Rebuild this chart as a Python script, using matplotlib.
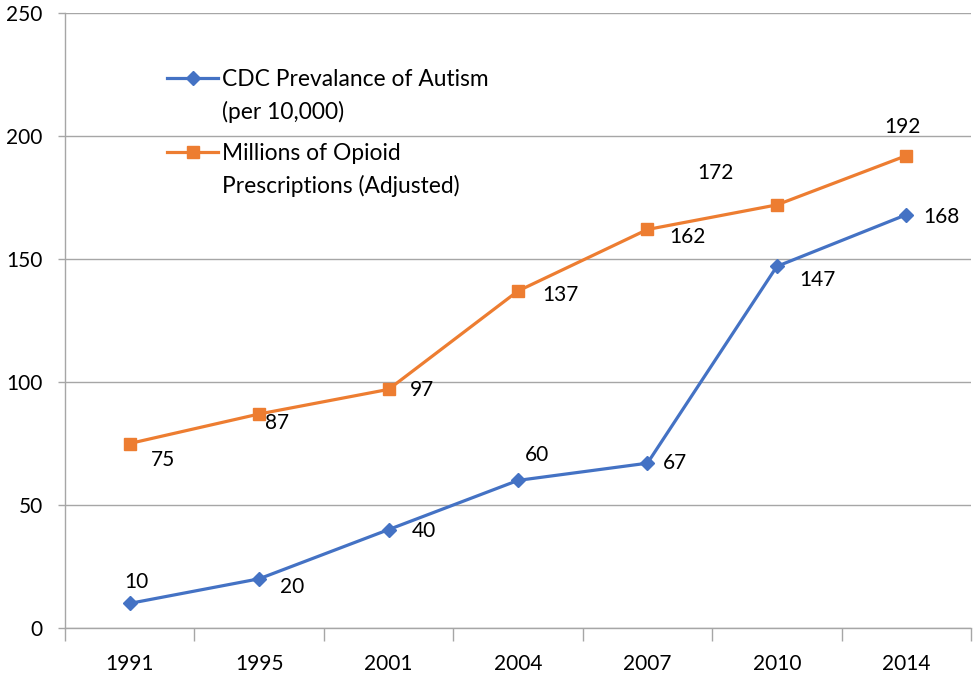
import numpy as np
import matplotlib
matplotlib.use("Agg")
import matplotlib.pyplot as plt

plt.rcParams['font.family'] = ['Lato', 'DejaVu Sans']

years = ['1991', '1995', '2001', '2004', '2007', '2010', '2014']
autism = [10, 20, 40, 60, 67, 147, 168]
opioid = [75, 87, 97, 137, 162, 172, 192]

autism_name = 'CDC Prevalance of Autism\n(per 10,000)'
opioid_name = 'Millions of Opioid\nPrescriptions (Adjusted)'

# label offsets in pixels (dx, dy), dy positive = down
autism_off = [(7, -21), (33, 8), (35, 1), (19, -25), (28, 0), (41, 14), (35, 2)]
opioid_off = [(33, 17), (18, 9), (33, 1), (42, 4), (40, 8), (-61, -32), (-4, -29)]

blue = '#4472C4'
orange = '#ED7D31'
W, H = 976, 673

fig = plt.figure(figsize=(9.76, 6.73), dpi=100)
ax = fig.add_axes([65 / W, 1 - 628 / H, 906 / W, 615 / H])

x = np.arange(len(years))
ax.plot(x, autism, color=blue, lw=2.3, marker='D', ms=7.5, zorder=3)
ax.plot(x, opioid, color=orange, lw=2.3, marker='s', ms=9, zorder=3)

for xi, v, (dx, dy) in zip(x, autism, autism_off):
    ax.annotate(str(v), (xi, v), xytext=(dx * 0.72, -dy * 0.72), textcoords='offset points',
                ha='center', va='center', fontsize=15, color='black')
for xi, v, (dx, dy) in zip(x, opioid, opioid_off):
    ax.annotate(str(v), (xi, v), xytext=(dx * 0.72, -dy * 0.72), textcoords='offset points',
                ha='center', va='center', fontsize=15, color='black')

ax.set_xlim(-0.5, len(years) - 0.5)
ax.set_ylim(0, 250)
ax.set_yticks([0, 50, 100, 150, 200, 250])
ax.set_xticks(x)
ax.set_xticklabels(years)
ax.set_xticks(np.arange(-0.5, len(years)), minor=True)
ax.tick_params(axis='x', which='major', length=0, pad=19, labelsize=15)
ax.tick_params(axis='x', which='minor', length=9, color='#a6a6a6', width=1)
ax.tick_params(axis='y', length=5, color='#a6a6a6', width=1, pad=11, labelsize=15)

ax.grid(axis='y', color='#a6a6a6', lw=1)
ax.set_axisbelow(True)
for s in ['top', 'right']:
    ax.spines[s].set_visible(False)
ax.spines['left'].set_color('#a6a6a6')
ax.spines['bottom'].set_color('#a6a6a6')
ax.spines['left'].set_linewidth(1)
ax.spines['bottom'].set_linewidth(1)

# hand-made legend, handle lined up with the first text line like Excel does
for name, col, mk, ms, ypx in [(autism_name, blue, 'D', 7.5, 78), (opioid_name, orange, 's', 9, 152)]:
    yf = 1 - ypx / H
    fig.add_artist(plt.Line2D([167 / W, 218 / W], [yf, yf], color=col, lw=2.3,
                              transform=fig.transFigure))
    fig.add_artist(plt.Line2D([192.5 / W], [yf], color=col, marker=mk, ms=ms,
                              transform=fig.transFigure))
    fig.text(222 / W, yf + 9 / H, name, fontsize=16.4, va='top', ha='left', linespacing=1.6)

fig.savefig('out.png', dpi=100)
